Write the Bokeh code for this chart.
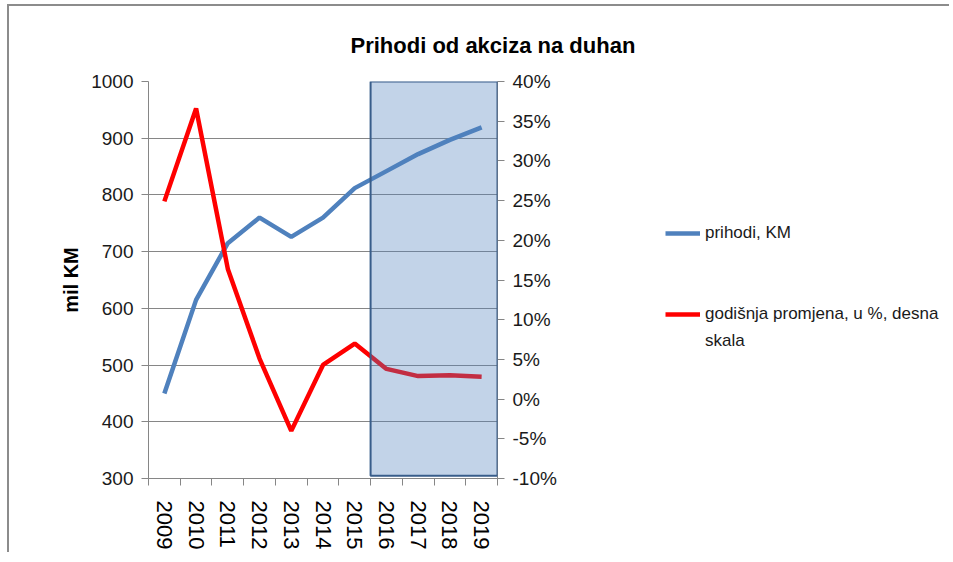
from bokeh.plotting import figure
from bokeh.layouts import row
from bokeh.models import (Range1d, LinearAxis, FixedTicker, PrintfTickFormatter,
                          BoxAnnotation, Legend, LegendItem)
from bokeh.embed import file_html
from bokeh.resources import INLINE

years = ["2009", "2010", "2011", "2012", "2013", "2014", "2015", "2016", "2017", "2018", "2019"]
prihodi = [450, 615, 715, 760, 726, 760, 812, 842, 872, 897, 919]
promjena = [24.9, 36.6, 16.4, 5.1, -4.0, 4.3, 7.0, 3.8, 2.9, 3.0, 2.8]
forecast_years = ["2016", "2017", "2018", "2019"]
left_ticks = [300, 400, 500, 600, 700, 800, 900, 1000]
right_ticks = [-10, -5, 0, 5, 10, 15, 20, 25, 30, 35, 40]
legend_labels = ["prihodi, KM", "godišnja promjena, u %, desna", "skala"]

FONT = "Liberation Sans"
GRAY = "#868686"
BLUE = "#4f81bd"
RED = "#ff0000"

xs = list(range(len(years)))

p = figure(width=631, height=546, output_backend="svg", toolbar_location=None,
           x_range=Range1d(-0.5, len(years) - 0.5),
           y_range=Range1d(left_ticks[0], left_ticks[-1]),
           min_border_left=139, min_border_right=143, min_border_top=75,
           min_border_bottom=72, outline_line_color=None)

# title
p.title.text = "Prihodi od akciza na duhan"
p.title.align = "left"
p.title.offset = 202
p.title.text_font = FONT
p.title.text_font_size = "22px"
p.title.text_font_style = "bold"
p.title.text_color = "#000000"
p.title.standoff = 48

# x axis
xa = p.xaxis[0]
xa.ticker = FixedTicker(ticks=xs, minor_ticks=[i - 0.5 for i in range(len(years) + 1)])
xa.major_label_overrides = {i: y for i, y in enumerate(years)}
xa.major_label_orientation = "vertical"
xa.major_tick_line_color = None
xa.minor_tick_line_color = GRAY
xa.minor_tick_in = 0
xa.minor_tick_out = 7
xa.axis_line_color = GRAY
xa.major_label_text_font = FONT
xa.major_label_text_font_size = "22px"
xa.major_label_text_color = "#000000"
xa.major_label_standoff = 15
p.xgrid.visible = False

# left axis
ya = p.yaxis[0]
ya.ticker = FixedTicker(ticks=left_ticks)
ya.minor_tick_line_color = None
ya.major_tick_in = 0
ya.major_tick_out = 7
ya.major_tick_line_color = GRAY
ya.axis_line_color = GRAY
ya.major_label_text_font = FONT
ya.major_label_text_font_size = "19px"
ya.major_label_text_color = "#1a1a1a"
ya.major_label_standoff = 8
ya.axis_label = "mil KM"
ya.axis_label_text_font = FONT
ya.axis_label_text_font_style = "bold"
ya.axis_label_text_font_size = "20px"
ya.axis_label_text_color = "#000000"
ya.axis_label_standoff = 6
p.ygrid.ticker = FixedTicker(ticks=left_ticks)
p.ygrid.grid_line_color = GRAY
p.ygrid.grid_line_width = 1

# right axis
p.extra_y_ranges = {"pct": Range1d(right_ticks[0], right_ticks[-1])}
ra = LinearAxis(y_range_name="pct", ticker=FixedTicker(ticks=right_ticks),
                formatter=PrintfTickFormatter(format="%d%%"))
ra.minor_tick_line_color = None
ra.major_tick_in = 0
ra.major_tick_out = 7
ra.major_tick_line_color = GRAY
ra.axis_line_color = GRAY
ra.major_label_text_font = FONT
ra.major_label_text_font_size = "19px"
ra.major_label_text_color = "#1a1a1a"
ra.major_label_standoff = 8
p.add_layout(ra, "right")

# lines
p.line(xs, prihodi, line_color=BLUE, line_width=4.5)
p.line(xs, promjena, line_color=RED, line_width=4.5, y_range_name="pct")

# shaded forecast box
i0 = years.index(forecast_years[0])
i1 = years.index(forecast_years[-1])
box = BoxAnnotation(left=i0 - 0.5, right=i1 + 0.5, top=left_ticks[-1], bottom=305,
                    fill_color=BLUE, fill_alpha=0.35,
                    line_color="#385d8a", line_alpha=1.0, line_width=2)
p.add_layout(box)

# legend panel (separate figure, no axes; its renderers are hidden copies)
q = figure(width=309, height=546, output_backend="svg", toolbar_location=None,
           x_range=Range1d(0, 1), y_range=Range1d(0, 1),
           min_border=0, outline_line_color=None)
q.axis.visible = False
q.grid.visible = False
lb = q.line(xs, prihodi, line_color=BLUE, line_width=4.5, visible=False)
lr = q.line(xs, promjena, line_color=RED, line_width=4.5, visible=False)
ln = q.line(xs, prihodi, line_alpha=0, visible=False)

legend = Legend(items=[LegendItem(label=legend_labels[0], renderers=[lb]),
                       LegendItem(label=" ", renderers=[ln]),
                       LegendItem(label=" ", renderers=[ln]),
                       LegendItem(label=legend_labels[1], renderers=[lr]),
                       LegendItem(label=legend_labels[2], renderers=[ln])],
                location=(25, 124), orientation="vertical")
legend.border_line_color = None
legend.background_fill_alpha = 0
legend.inactive_fill_alpha = 0
legend.label_text_font = FONT
legend.label_text_font_size = "17px"
legend.label_text_color = "#1a1a1a"
legend.label_height = 26
legend.glyph_height = 26
legend.glyph_width = 35
legend.label_standoff = 5
legend.spacing = 1
legend.margin = 0
legend.padding = 0
q.add_layout(legend)

layout = row(p, q)
layout.styles = {"border-top": "2px solid #8c8c8c", "border-left": "2px solid #8c8c8c",
                 "margin-left": "7px", "margin-top": "4px"}

open("out.html", "w").write(file_html(layout, INLINE))
